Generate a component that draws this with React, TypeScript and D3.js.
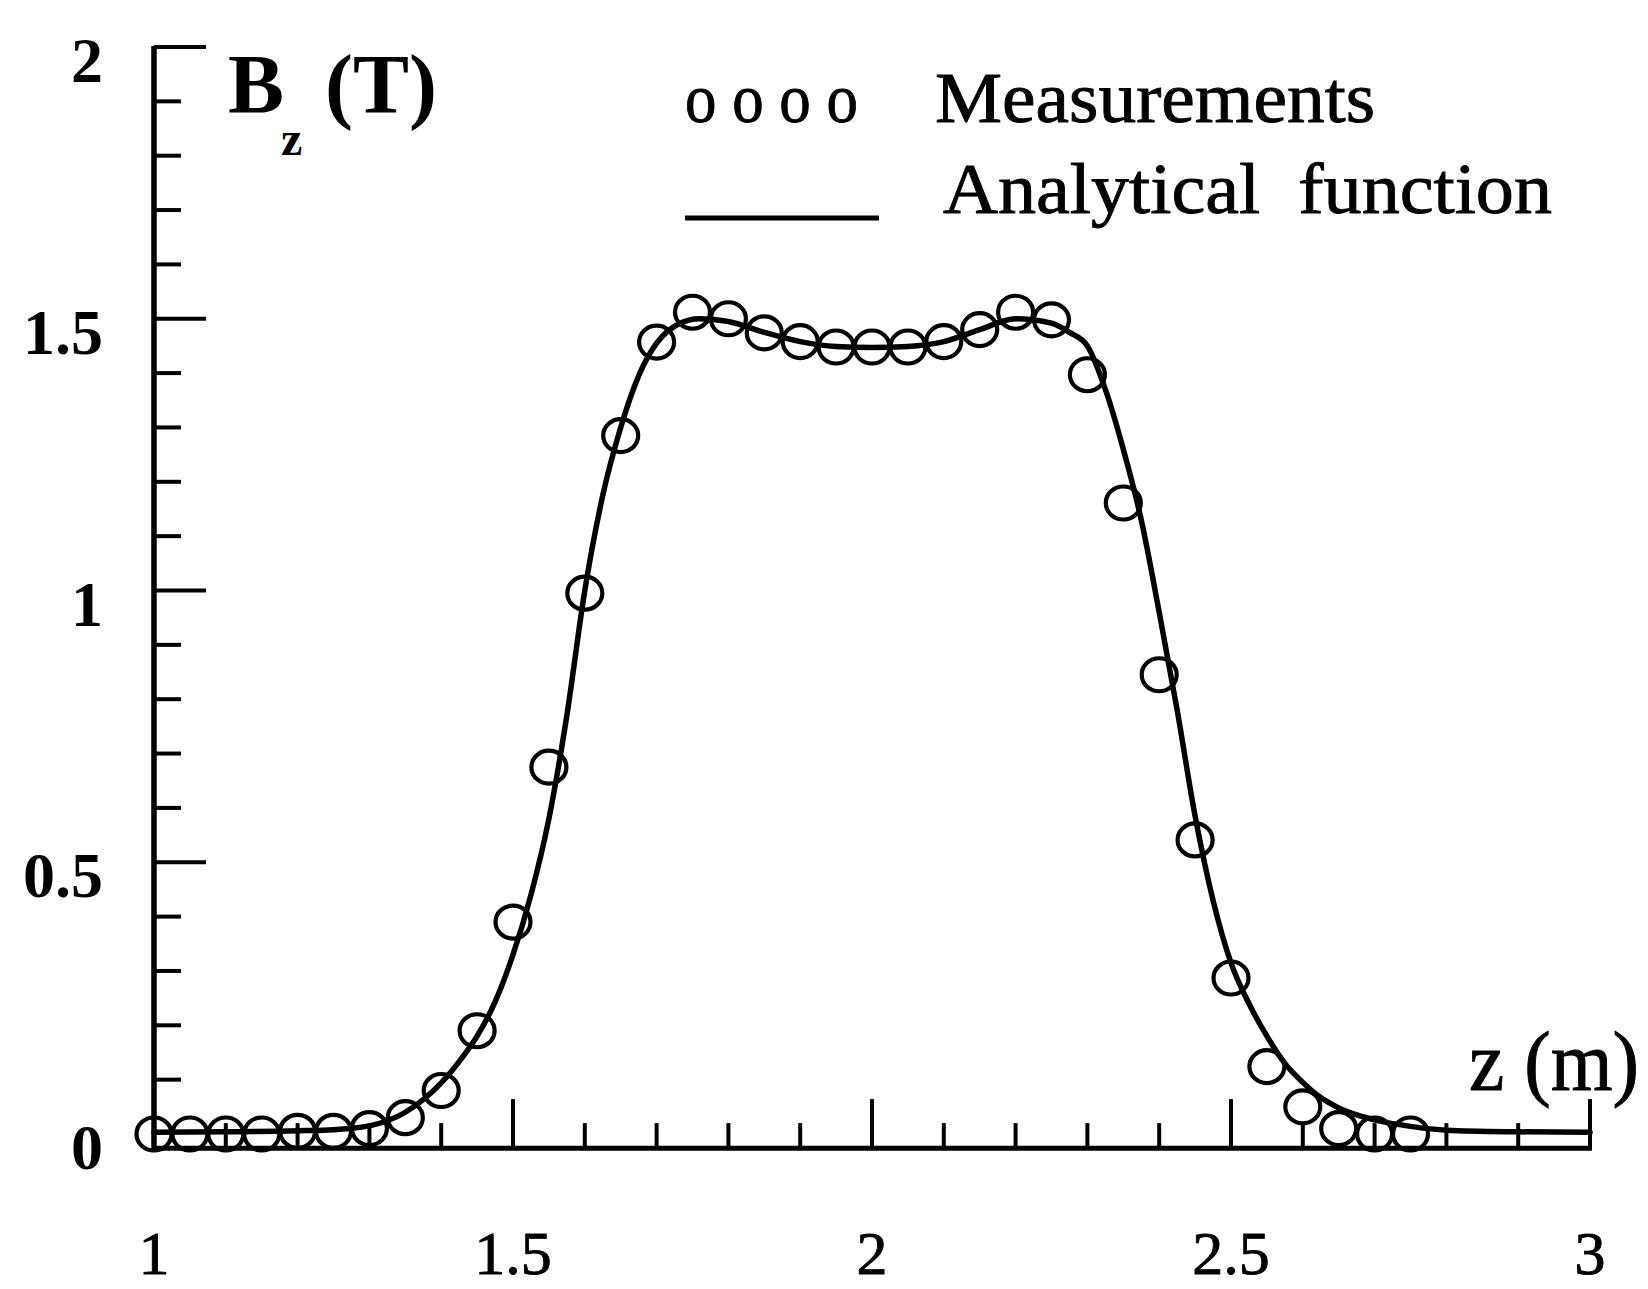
import React from 'react';
import * as d3 from 'd3';

// Measurements (z in m, Bz in T)
const MEAS_Z = [1.0, 1.05, 1.1, 1.15, 1.2, 1.25, 1.3, 1.35, 1.4, 1.45, 1.5, 1.55, 1.6, 1.65, 1.7, 1.75, 1.8, 1.85, 1.9, 1.95, 2.0, 2.05, 2.1, 2.15, 2.2, 2.25, 2.3, 2.35, 2.4, 2.45, 2.5, 2.55, 2.6, 2.65, 2.7, 2.75];
const MEAS_B = [0.0, 0.0, 0.0, 0.0, 0.005, 0.005, 0.01, 0.03, 0.08, 0.19, 0.39, 0.675, 0.995, 1.285, 1.457, 1.512, 1.5, 1.474, 1.458, 1.448, 1.448, 1.448, 1.458, 1.48, 1.512, 1.498, 1.397, 1.161, 0.845, 0.541, 0.287, 0.124, 0.05, 0.01, 0.0, 0.0];

// Analytical function
const CURVE_Z = [1.0, 1.1, 1.2, 1.25, 1.3, 1.35, 1.4, 1.43, 1.45, 1.475, 1.5, 1.525, 1.55, 1.575, 1.6, 1.625, 1.65, 1.675, 1.7, 1.73, 1.76, 1.8, 1.85, 1.9, 1.95, 2.0, 2.05, 2.1, 2.15, 2.2, 2.25, 2.275, 2.3, 2.325, 2.35, 2.375, 2.4, 2.425, 2.45, 2.475, 2.5, 2.525, 2.55, 2.575, 2.6, 2.625, 2.65, 2.7, 2.75, 2.8, 2.9, 3.0];
const CURVE_B = [0.003, 0.004, 0.006, 0.008, 0.015, 0.04, 0.094, 0.142, 0.18, 0.243, 0.33, 0.44, 0.58, 0.77, 1.0, 1.175, 1.3, 1.395, 1.455, 1.49, 1.5, 1.495, 1.475, 1.458, 1.449, 1.447, 1.449, 1.458, 1.48, 1.5, 1.492, 1.475, 1.45, 1.37, 1.26, 1.13, 0.96, 0.78, 0.585, 0.43, 0.315, 0.24, 0.18, 0.13, 0.095, 0.067, 0.048, 0.026, 0.014, 0.007, 0.004, 0.003];

const X_TICK_VALUES = [1, 1.5, 2, 2.5, 3];
const X_TICK_LABELS = ['1', '1.5', '2', '2.5', '3'];
const Y_TICK_VALUES = [0, 0.5, 1, 1.5, 2];
const Y_TICK_LABELS = ['0', '0.5', '1', '1.5', '2'];

const W = 1648;
const H = 1289;
const FONT = '"Liberation Serif", "Times New Roman", "DejaVu Serif", serif';

export default function App() {
  const x = d3.scaleLinear().domain([1, 3]).range([154, 1590]);
  const y = d3.scaleLinear().domain([0, 2]).range([1134, 47]);
  const axisY = y(-0.026);
  const axisX = x(1);

  const isMajor = (v: number) => Math.abs(v * 2 - Math.round(v * 2)) < 1e-6;

  const curveData = CURVE_Z.map((z, i) => [z, CURVE_B[i]] as [number, number]);
  const line = d3
    .line<[number, number]>()
    .x((d) => x(d[0]))
    .y((d) => y(d[1]))
    .curve(d3.curveMonotoneX);

  const xTicks = x.ticks(20).filter((v) => v > 1.0001);
  const yTicks = y.ticks(20).filter((v) => v > 0.0001);

  const heavy = { stroke: '#000', strokeWidth: 0.9 };

  return (
    <svg
      width={W}
      height={H}
      viewBox={`0 0 ${W} ${H}`}
      style={{ position: 'absolute', left: 0, top: 0, background: '#fff' }}
      fontFamily={FONT}
    >
      <rect x={0} y={0} width={W} height={H} fill="#fff" />

      {/* Y axis */}
      <line x1={axisX} x2={axisX} y1={y(2) - 1} y2={axisY + 2} stroke="#000" strokeWidth={5.5} />
      {yTicks.map((v, i) => (
        <line
          key={'yt' + i}
          x1={axisX}
          x2={axisX + (isMajor(v) ? 52 : 27)}
          y1={y(v)}
          y2={y(v)}
          stroke="#000"
          strokeWidth={4}
        />
      ))}
      {Y_TICK_VALUES.map((v, i) => (
        <text
          key={'yl' + i}
          x={103}
          y={y(v) + 35}
          textAnchor="end"
          fontSize={64}
          fontWeight="bold"
          fill="#000"
        >
          {Y_TICK_LABELS[i]}
        </text>
      ))}

      {/* X axis */}
      <line x1={axisX - 2} x2={x(3) + 2} y1={axisY} y2={axisY} stroke="#000" strokeWidth={5} />
      {xTicks.map((v, i) => (
        <line
          key={'xt' + i}
          x1={x(v)}
          x2={x(v)}
          y1={axisY}
          y2={axisY - (isMajor(v) ? 49 : 25)}
          stroke="#000"
          strokeWidth={4}
        />
      ))}
      {X_TICK_VALUES.map((v, i) => (
        <text
          key={'xl' + i}
          x={x(v)}
          y={1274}
          textAnchor="middle"
          fontSize={62}
          fill="#000"
          {...heavy}
        >
          {X_TICK_LABELS[i]}
        </text>
      ))}

      {/* Axis titles */}
      <text x={228} y={113} fontSize={84} fontWeight="bold" fill="#000">B</text>
      <text x={281} y={155} fontSize={48} fontWeight="bold" fill="#000">z</text>
      <text x={325} y={113} fontSize={84} fontWeight="bold" fill="#000">(T)</text>
      <text x={1469} y={1090} fontSize={84} fill="#000" textLength={170} lengthAdjust="spacingAndGlyphs" {...heavy}>
        z (m)
      </text>

      {/* Legend */}
      <text x={685} y={122} fontSize={70} fill="#000" textLength={173} lengthAdjust="spacingAndGlyphs" {...heavy}>
        o o o o
      </text>
      <text x={935} y={122} fontSize={72} fill="#000" textLength={440} lengthAdjust="spacingAndGlyphs" {...heavy}>
        Measurements
      </text>
      <line x1={685} x2={879} y1={218} y2={218} stroke="#000" strokeWidth={5} />
      <text x={943} y={213} fontSize={72} fill="#000" textLength={609} lengthAdjust="spacingAndGlyphs" xmlSpace="preserve" {...heavy}>
        Analytical  function
      </text>

      {/* Analytical curve */}
      <path d={line(curveData) || ''} fill="none" stroke="#000" strokeWidth={5.5} strokeLinejoin="round" strokeLinecap="round" />

      {/* Measurements */}
      {MEAS_Z.map((z, i) => (
        <ellipse
          key={'m' + i}
          cx={x(z)}
          cy={y(MEAS_B[i])}
          rx={17.5}
          ry={16.5}
          fill="none"
          stroke="#000"
          strokeWidth={4.2}
        />
      ))}
    </svg>
  );
}
